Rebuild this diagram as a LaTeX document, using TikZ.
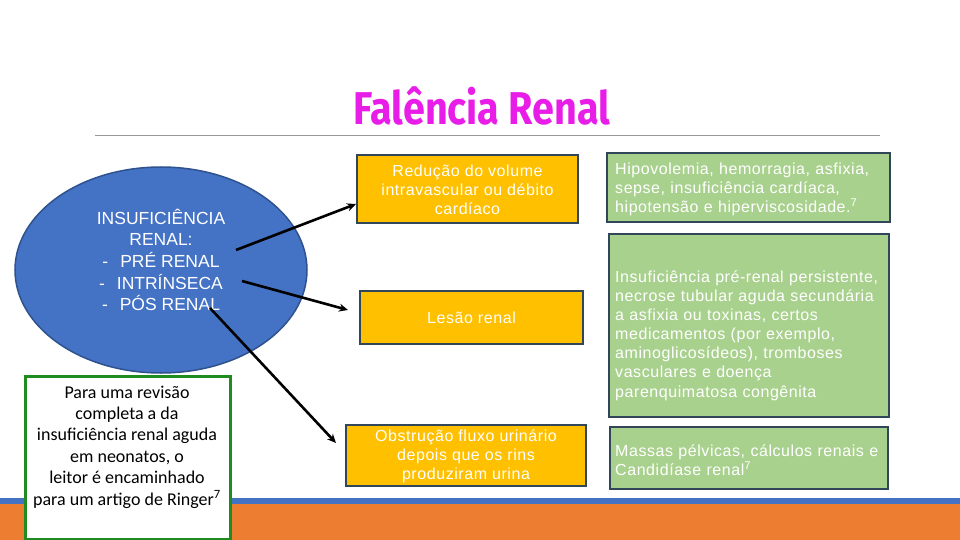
\documentclass[tikz,border=0pt]{standalone}
\usepackage{fontspec}
\setmainfont{Liberation Sans}
\newfontfamily\spaced[LetterSpace=3.5]{Liberation Sans}
\newfontfamily\calib{Carlito}
\newfontfamily\titlef[FakeStretch=0.86]{Fira Sans}
\usetikzlibrary{arrows.meta,shapes.geometric}
\definecolor{titlemag}{RGB}{232,30,232}
\definecolor{bandblue}{RGB}{68,114,196}
\definecolor{bandorange}{RGB}{237,125,49}
\definecolor{ellfill}{RGB}{68,114,196}
\definecolor{elldraw}{RGB}{47,82,143}
\definecolor{boxorange}{RGB}{255,192,0}
\definecolor{boxgreen}{RGB}{169,209,142}
\definecolor{boxedge}{RGB}{50,70,90}
\definecolor{notegreen}{RGB}{30,140,30}
\tikzset{
  obox/.style={draw=boxedge, line width=1.6pt, fill=boxorange, inner sep=0pt},
  gbox/.style={draw=boxedge, line width=1.6pt, fill=boxgreen, inner sep=0pt},
  otext/.style={text=white, align=center, inner sep=0pt, font=\spaced\fontsize{16}{19}\selectfont},
  gtext/.style={text=white, align=left, inner sep=0pt, anchor=west, text width=276pt, font=\spaced\fontsize{16}{19.1}\selectfont},
  conn/.style={line width=2.6pt, -{Stealth[length=9pt,width=8pt]}}
}
\begin{document}
\begin{tikzpicture}[x=1pt,y=-1pt]
\useasboundingbox (0,0) rectangle (960,540);
% bands
\fill[bandblue] (0,498) rectangle (960,504);
\fill[bandorange] (0,504) rectangle (960,540);
% title
\node[text=titlemag, font=\titlef\bfseries\fontsize{46}{50}\selectfont, inner sep=0pt] (title) at (482,106) {Falência Renal};
\draw[color=gray!80, line width=1pt] (95,136) -- (880,136);
% ellipse
\node[ellipse, draw=elldraw, line width=1.5pt, fill=ellfill, minimum width=292pt, minimum height=206pt, inner sep=0pt] (ell) at (161,270) {};
\node[text=white, align=center, inner sep=0pt, font=\fontsize{17.5}{21.7}\selectfont] (elltext) at (161,260)
 {INSUFICIÊNCIA\\RENAL:\\-\hspace{12pt}PRÉ RENAL\\-\hspace{12pt}INTRÍNSECA\\-\hspace{12pt}PÓS RENAL};
% note box
\node[draw=notegreen, line width=3pt, fill=white, minimum width=205pt, minimum height=163pt, inner sep=0pt] (note) at (127.5,457.5) {};
\node[align=center, inner sep=0pt, font=\calib\fontsize{18}{21.4}\selectfont] (notetext) at (127,447)
 {Para uma revisão\\completa a da\\insuficiência renal aguda\\em neonatos, o\\leitor é encaminhado\\para um artigo de Ringer\textsuperscript{7}};
% orange boxes
\node[obox, minimum width=221pt, minimum height=68pt] (r1) at (467.5,189) {};
\node[otext] (r1t) at (467.5,190) {Redução do volume\\intravascular ou débito\\cardíaco};
\node[obox, minimum width=223pt, minimum height=53pt] (r2) at (471.5,317.5) {};
\node[otext] (r2t) at (471.5,318) {Lesão renal};
\node[obox, minimum width=240pt, minimum height=61pt] (r3) at (466,455.5) {};
\node[otext] (r3t) at (466,456) {Obstrução fluxo urinário\\depois que os rins\\produziram urina};
% green boxes
\node[gbox, minimum width=283pt, minimum height=69pt] (g1) at (748.5,187.5) {};
\node[gtext] (g1t) at (615,189.5) {Hipovolemia, hemorragia, asfixia,\\sepse, insuficiência cardíaca,\\hipotensão e hiperviscosidade.\textsuperscript{7}};
\node[gbox, minimum width=280pt, minimum height=183pt] (g2) at (749,325.5) {};
\node[gtext] (g2t) at (615,335.5) {Insuficiência pré-renal persistente,\\necrose tubular aguda secundária\\a asfixia ou toxinas, certos\\medicamentos (por exemplo,\\aminoglicosídeos), tromboses\\vasculares e doença\\parenquimatosa congênita};
\node[gbox, minimum width=278pt, minimum height=62pt] (g3) at (749,458) {};
\node[gtext] (g3t) at (615,460.5) {Massas pélvicas, cálculos renais e\\Candidíase renal\textsuperscript{7}};
% arrows
\coordinate (s1) at (236,250);
\coordinate (e1) at (356,204);
\coordinate (s2) at (242,281);
\coordinate (e2) at (348,310);
\coordinate (s3) at (210,308);
\coordinate (e3) at (336,443);
\draw[conn] (s1) -- (e1);
\draw[conn] (s2) -- (e2);
\draw[conn] (s3) -- (e3);
\end{tikzpicture}
\end{document}
